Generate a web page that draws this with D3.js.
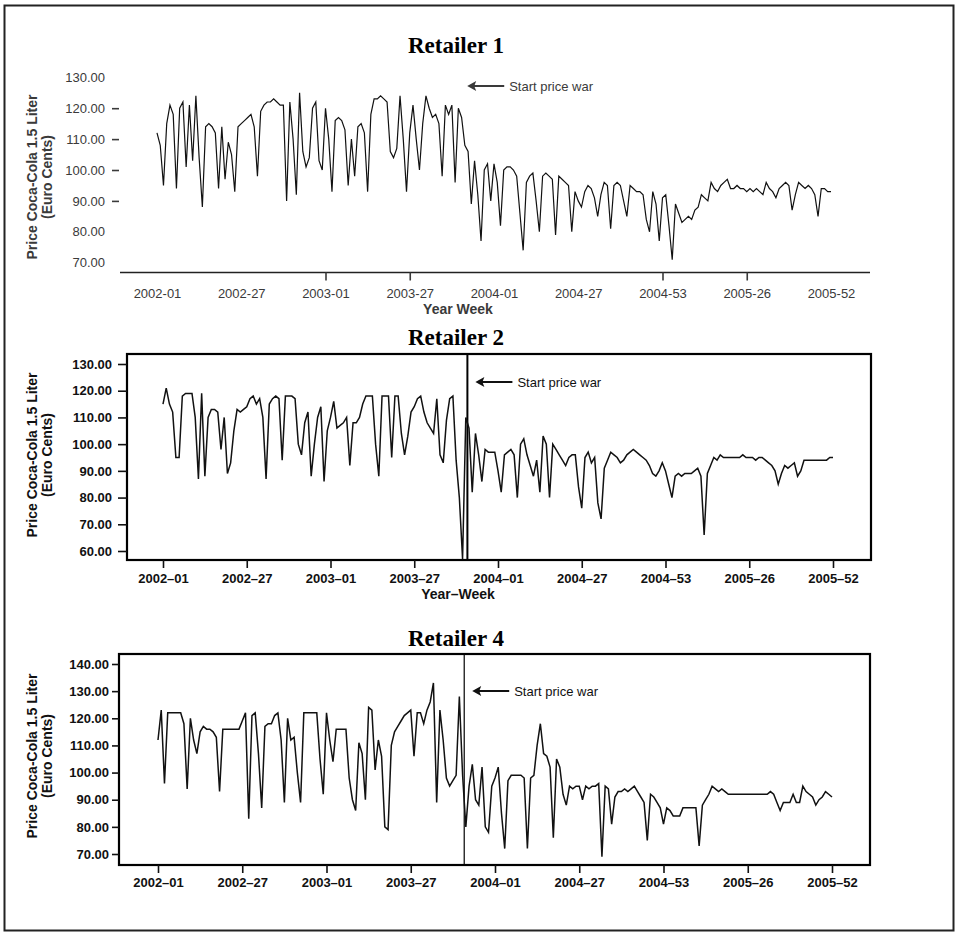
<!DOCTYPE html>
<html>
<meta charset="utf-8">
<head>
<title>Coca-Cola price war</title>
<style>
  body { margin: 0; background: #fff; }
  text { font-family: "Liberation Sans", Arial, sans-serif; }
  .title { font-family: "Liberation Serif", "Times New Roman", serif; font-weight: bold; font-size: 23px; }
</style>
</head>
<body>
<script src="https://d3js.org/d3.v7.min.js"></script>
<script>

// weekly index 0..208 = 2002-01 .. 2005-52
var xTickIndex = [0, 26, 52, 78, 104, 130, 156, 182, 208];
var xTickLabels = ["2002-01", "2002-27", "2003-01", "2003-27", "2004-01", "2004-27", "2004-53", "2005-26", "2005-52"];
var xTickLabelsDash = ["2002\u201301", "2002\u201327", "2003\u201301", "2003\u201327", "2004\u201301", "2004\u201327", "2004\u201353", "2005\u201326", "2005\u201352"];
var priceWarWeek = 94.5;

var yTicks1 = [70, 80, 90, 100, 110, 120, 130];
var yTicks2 = [60, 70, 80, 90, 100, 110, 120, 130];
var yTicks4 = [70, 80, 90, 100, 110, 120, 130, 140];

// Retailer 1 weekly price (euro cents)
var retailer1 = [
  112,108,95,115,121,118,94,120,122,101,
  121,103,124,104,88,114,115,114,112,94,
  114,97,109,105,93,114,115,116,117,118,
  114,98,119,121,122,122,123,122,121,121,
  90,122,110,92,125,106,101,104,120,122,
  103,100,120,110,93,116,117,116,113,95,
  110,98,114,115,112,93,118,123,123,124,
  123,122,106,104,107,124,110,93,112,121,
  110,100,115,124,120,117,118,115,98,121,
  118,121,96,120,117,108,106,89,103,92,
  77,100,102,90,
  102,96,82,100,101,101,100,98,86,74,
  96,98,99,90,80,98,99,98,97,79,
  98,97,96,95,80,93,90,88,93,95,
  94,91,85,92,96,95,81,95,96,95,
  90,85,95,94,93,93,92,84,80,93,
  89,77,91,92,82,71,89,86,83,84,
  85,84,87,88,92,91,90,96,94,93,
  95,96,97,94,94,95,94,94,93,94,
  93,94,93,92,96,94,93,91,94,95,
  96,95,87,92,96,95,94,95,94,92,
  85,94,94,93,93
];

// Retailer 2 weekly price
var retailer2 = [
  115,121,115,112,95,95,118,119,119,119,
  110,87,119,88,110,113,113,112,98,110,
  89,93,105,113,112,113,114,117,118,115,
  117,110,87,115,117,118,117,94,118,118,
  118,117,100,96,108,112,88,100,110,114,
  86,105,110,116,106,107,108,110,92,108,
  108,110,115,118,118,118,100,88,118,118,
  118,95,118,118,104,96,103,112,114,117,
  118,112,108,106,104,117,96,93,109,117,
  118,94,80,57,110,106,82,104,96,86,
  98,97,
  97,97,90,82,96,97,98,96,80,100,
  102,96,92,88,94,82,103,100,80,100,
  98,96,94,92,95,96,96,84,76,95,
  97,93,95,78,72,91,94,97,96,95,
  93,94,96,97,98,97,96,95,94,92,
  89,88,90,93,90,85,80,88,89,88,
  89,89,89,90,91,88,66,89,92,95,
  94,96,95,95,95,95,95,95,96,95,
  95,95,94,95,95,94,93,92,90,85,
  89,92,91,92,93,88,90,94,94,94,
  94,94,94,94,94,95,95
];

// Retailer 4 weekly price
var retailer4 = [
  112,123,96,122,122,122,122,122,118,94,
  120,112,107,115,117,116,116,115,113,93,
  116,116,116,116,116,116,119,122,83,121,
  122,107,87,117,118,118,121,122,112,89,
  120,112,113,100,89,122,122,122,122,122,
  105,92,122,112,104,116,116,116,116,98,
  90,86,111,107,90,124,123,101,112,106,
  80,79,110,115,117,119,121,122,123,106,
  122,122,118,123,126,133,89,123,112,98,
  95,97,99,128,99,80,95,103,90,88,
  102,80,
  78,95,98,102,85,72,97,99,99,99,
  99,98,72,98,99,110,118,107,106,102,
  76,105,102,92,88,95,94,95,95,90,
  95,94,95,95,96,69,95,94,81,91,
  93,93,94,93,94,95,93,91,89,75,
  92,91,89,87,81,87,86,84,84,84,
  87,87,87,87,87,73,88,90,92,95,
  94,93,94,93,92,92,92,92,92,92,
  92,92,92,92,92,92,92,93,92,89,
  86,89,89,89,92,89,89,95,93,92,
  91,88,90,91,93,92,91
];

var W = 958, H = 936;
var svg = d3.select("body").append("svg")
  .attr("width", W)
  .attr("height", H);

svg.append("rect")
  .attr("x", 4.5).attr("y", 5.5)
  .attr("width", 949).attr("height", 925)
  .attr("fill", "#fff")
  .attr("stroke", "#222")
  .attr("stroke-width", 2);

var fmt = d3.format(".2f");

// panel layouts
var panels = [
  {title: "Retailer 1", titleY: 53, data: retailer1, yTicks: yTicks1, xLabels: xTickLabels,
   xRange: [157, 831], yDomain: [70, 130], yRange: [262.7, 77.3],
   axisX: 119, axisY: 272.5, left: 120, right: 870, box: false,
   ytSize: 7, ytPad: 7, xtSize: 8, xtPad: 8,
   yMarks: [90, 100, 110, 120], xMarks: [52, 78, 156, 182],
   xTitle: "Year Week", xTitleY: 314, yTitleY: 177,
   arrowY: 86, arrowDx: 4, warLine: false, ink: "#3a3a3a", bold: "normal", lineW: 1.2},
  {title: "Retailer 2", titleY: 345, data: retailer2, yTicks: yTicks2, xLabels: xTickLabelsDash,
   xRange: [163, 833], yDomain: [60, 130], yRange: [551, 364],
   axisX: 127, axisY: 560, left: 127, right: 871, top: 354, box: true,
   ytSize: 9, ytPad: 6, xtSize: 8, xtPad: 6,
   xTitle: "Year\u2013Week", xTitleY: 599, yTitleY: 455,
   arrowY: 382, arrowDx: 8, warLine: true, warW: 2, ink: "#111", bold: "bold", lineW: 1.5},
  {title: "Retailer 4", titleY: 646, data: retailer4, yTicks: yTicks4, xLabels: xTickLabelsDash,
   xRange: [158, 832], yDomain: [70, 140], yRange: [854, 664],
   axisX: 119, axisY: 865, left: 119, right: 870, top: 654, box: true,
   ytSize: 7, ytPad: 3, xtSize: 8, xtPad: 5,
   xTitle: null, yTitleY: 756,
   arrowY: 691, arrowDx: 8, warLine: true, warW: 1.2, ink: "#111", bold: "bold", lineW: 1.5}
];

panels.forEach(function(p) {
  var g = svg.append("g");
  var x = d3.scaleLinear().domain([0, 208]).range(p.xRange);
  var y = d3.scaleLinear().domain(p.yDomain).range(p.yRange);

  // title
  g.append("text").attr("class", "title")
    .attr("x", 456).attr("y", p.titleY)
    .attr("text-anchor", "middle")
    .text(p.title);

  // frame or baseline
  if (p.box) {
    g.append("rect")
      .attr("x", p.left).attr("y", p.top)
      .attr("width", p.right - p.left).attr("height", p.axisY - p.top)
      .attr("fill", "none").attr("stroke", "#000").attr("stroke-width", 2.2);
  } else {
    g.append("line")
      .attr("x1", p.left).attr("x2", p.right)
      .attr("y1", p.axisY).attr("y2", p.axisY)
      .attr("stroke", "#222").attr("stroke-width", 1.6);
  }

  // y axis
  var ya = g.append("g")
    .attr("transform", "translate(" + p.axisX + ",0)")
    .call(d3.axisLeft(y).tickValues(p.yTicks).tickFormat(fmt)
      .tickSize(p.ytSize).tickPadding(p.ytPad));
  ya.select(".domain").remove();
  ya.selectAll("line").attr("stroke", p.ink).attr("stroke-width", 1.6);
  ya.selectAll("text").attr("fill", p.ink).style("font-size", "13px").style("font-weight", p.bold);
  if (p.yMarks) {
    ya.selectAll(".tick").filter(function(d) { return p.yMarks.indexOf(d) < 0; })
      .select("line").remove();
  }

  // x axis
  var xa = g.append("g")
    .attr("transform", "translate(0," + p.axisY + ")")
    .call(d3.axisBottom(x).tickValues(xTickIndex)
      .tickFormat(function(d, i) { return p.xLabels[i]; })
      .tickSize(p.xtSize).tickPadding(p.xtPad));
  xa.select(".domain").remove();
  xa.selectAll("line").attr("stroke", p.ink).attr("stroke-width", 1.6);
  xa.selectAll("text").attr("fill", p.ink).style("font-size", "13px").style("font-weight", p.bold);
  if (p.xMarks) {
    xa.selectAll(".tick").filter(function(d) { return p.xMarks.indexOf(d) < 0; })
      .select("line").remove();
  }

  // axis titles
  var yt = g.append("text")
    .attr("transform", "translate(37," + p.yTitleY + ") rotate(-90)")
    .attr("text-anchor", "middle")
    .attr("fill", p.ink)
    .style("font-size", "14px").style("font-weight", "bold");
  yt.append("tspan").attr("x", 0).attr("dy", 0).text("Price Coca-Cola 1.5 Liter");
  yt.append("tspan").attr("x", 0).attr("dy", 15).text("(Euro Cents)");

  if (p.xTitle) {
    g.append("text")
      .attr("x", 458).attr("y", p.xTitleY)
      .attr("text-anchor", "middle")
      .attr("fill", p.ink)
      .style("font-size", "14px").style("font-weight", "bold")
      .text(p.xTitle);
  }

  // price war marker
  var wx = x(priceWarWeek);
  if (p.warLine) {
    g.append("line")
      .attr("x1", wx).attr("x2", wx)
      .attr("y1", p.top).attr("y2", p.axisY)
      .attr("stroke", "#000").attr("stroke-width", p.warW);
  }
  var tip = wx + p.arrowDx;
  g.append("line")
    .attr("x1", tip + 5).attr("x2", tip + 37)
    .attr("y1", p.arrowY).attr("y2", p.arrowY)
    .attr("stroke", p.ink).attr("stroke-width", 2);
  g.append("path")
    .attr("d", "M" + tip + "," + p.arrowY + "l9,-5l-2,5l2,5z")
    .attr("fill", p.ink);
  g.append("text")
    .attr("x", tip + 42).attr("y", p.arrowY + 4.5)
    .attr("fill", p.ink)
    .style("font-size", "13px")
    .text("Start price war");

  // series
  var line = d3.line()
    .x(function(d, i) { return x(i); })
    .y(function(d) { return y(d); });
  g.append("path")
    .datum(p.data)
    .attr("d", line)
    .attr("fill", "none")
    .attr("stroke", "#111")
    .attr("stroke-width", p.lineW)
    .attr("stroke-linejoin", "miter");
});

</script>
</body>
</html>
